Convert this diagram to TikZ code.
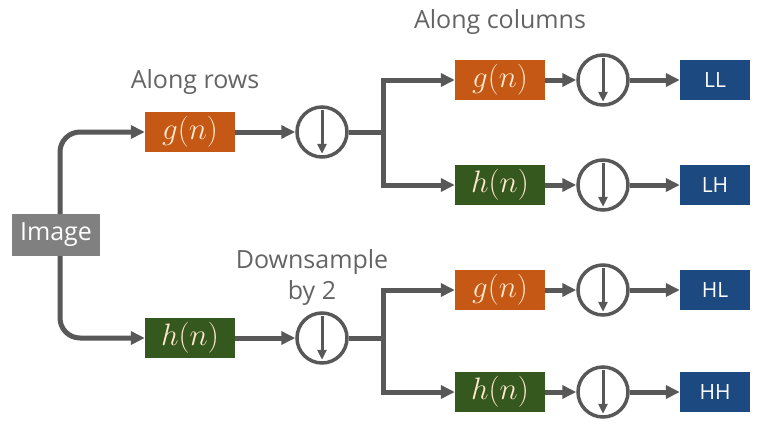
\documentclass[tikz,border=0pt]{standalone}
\usepackage{fix-cm}
\usepackage{fontspec}
\setmainfont{Open Sans}
\usetikzlibrary{arrows.meta}
\definecolor{imggray}{RGB}{128,128,128}
\definecolor{lowpass}{RGB}{196,88,20}
\definecolor{highpass}{RGB}{52,88,30}
\definecolor{subband}{RGB}{28,74,128}
\definecolor{wire}{RGB}{88,88,88}
\definecolor{labelgray}{RGB}{100,100,100}
\definecolor{cream}{RGB}{255,232,205}
\begin{document}
\begin{tikzpicture}[x=1pt,y=-1pt,
  filt/.style={minimum width=90pt,minimum height=40pt,inner sep=0pt,text=cream,font=\fontsize{31}{31}\selectfont},
  band/.style={fill=subband,minimum width=70pt,minimum height=40pt,inner sep=0pt,text=white,font=\fontsize{21}{21}\selectfont},
  down/.style={circle,draw=wire,line width=3.5pt,minimum size=50pt,inner sep=0pt},
  wireline/.style={draw=wire,line width=5pt},
  arr/.style={wireline,-{Triangle[length=14pt,width=13pt]}},
  lbl/.style={text=labelgray,font=\fontsize{25}{31}\selectfont,align=center}]
\useasboundingbox (0,0) rectangle (763,426);

% input
\node[fill=imggray,text=white,minimum width=88pt,minimum height=42pt,inner sep=0pt,font=\fontsize{25}{25}\selectfont] (img) at (56,235) {Image};

% row filters
\node[filt,fill=lowpass] (g0) at (190,132) {$g(n)$};
\node[filt,fill=highpass] (h0) at (190,338) {$h(n)$};
\node[down] (d0) at (322,132) {};
\node[down] (d1) at (322,338) {};

% column filters
\node[filt,fill=lowpass] (g1) at (500,80) {$g(n)$};
\node[filt,fill=highpass] (h1) at (500,185) {$h(n)$};
\node[filt,fill=lowpass] (g2) at (500,290) {$g(n)$};
\node[filt,fill=highpass] (h2) at (500,392) {$h(n)$};
\node[down] (d2) at (603,80) {};
\node[down] (d3) at (603,185) {};
\node[down] (d4) at (603,290) {};
\node[down] (d5) at (603,392) {};

% subbands
\node[band] (ll) at (715,80) {LL};
\node[band] (lh) at (715,185) {LH};
\node[band] (hl) at (715,290) {HL};
\node[band] (hh) at (715,392) {HH};

% labels
\node[lbl] (lrows) at (195,82) {Along rows};
\node[lbl] (lcols) at (500,22) {Along columns};
\node[lbl] (ldown) at (312,278) {Downsample\\by 2};

% downsample arrows inside the circles
\foreach \d in {d0,d1,d2,d3,d4,d5}{
  \draw[draw=wire,line width=3pt,-{Triangle[length=10pt,width=9pt]}] ([yshift=-5pt]\d.north) -- ([yshift=5pt]\d.south);
}

% splitting the image
\draw[arr,rounded corners=20pt] (img.north -| 60,0) -- (60,132) -- (g0.west);
\draw[arr,rounded corners=20pt] (img.south -| 60,0) -- (60,338) -- (h0.west);
\draw[arr] (g0) -- (d0);
\draw[arr] (h0) -- (d1);

% branching after row downsampling
\coordinate (b0) at (383,132);
\coordinate (b1) at (383,338);
\draw[wireline] (d0.east) -- (b0);
\draw[wireline] (d1.east) -- (b1);
\draw[arr] (b0) |- (g1.west);
\draw[arr] (b0) |- (h1.west);
\draw[arr] (b1) |- (g2.west);
\draw[arr] (b1) |- (h2.west);

% column chain
\draw[arr] (g1) -- (d2);
\draw[arr] (h1) -- (d3);
\draw[arr] (g2) -- (d4);
\draw[arr] (h2) -- (d5);
\draw[arr] (d2) -- (ll);
\draw[arr] (d3) -- (lh);
\draw[arr] (d4) -- (hl);
\draw[arr] (d5) -- (hh);
\end{tikzpicture}
\end{document}
